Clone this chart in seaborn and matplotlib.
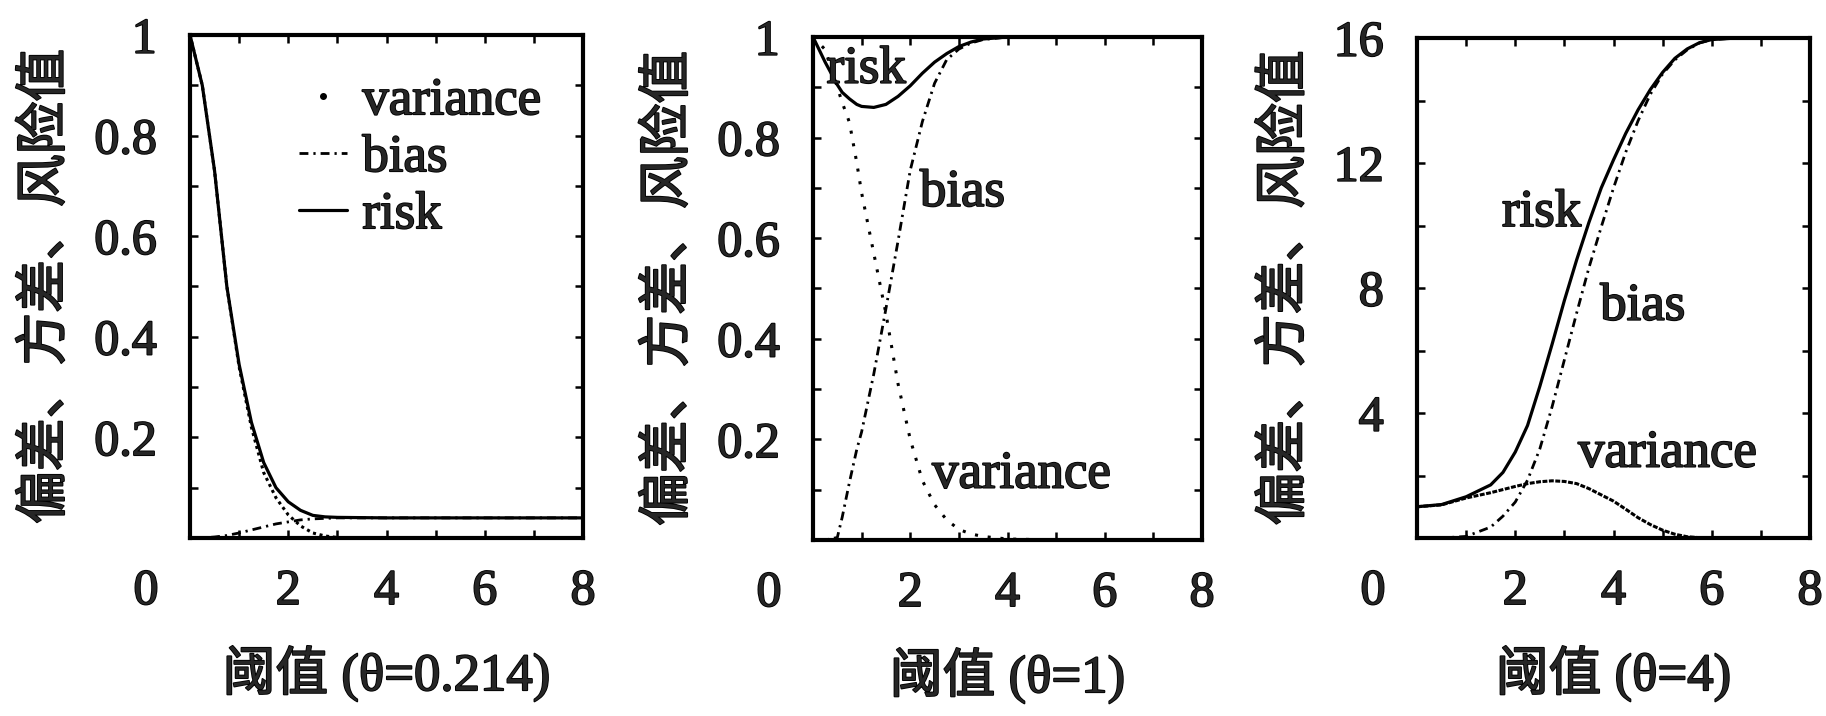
import matplotlib
matplotlib.use("Agg")
import matplotlib.pyplot as plt
import matplotlib.patheffects as pe
import seaborn as sns
from matplotlib.lines import Line2D
from matplotlib.ticker import FixedLocator, MultipleLocator, FuncFormatter
from matplotlib.transforms import ScaledTranslation

sns.set_style("ticks")
plt.rcParams["font.family"] = ["Liberation Serif", "Noto Sans CJK SC"]

# ---------------- data ----------------
x_theta1 = [0, 0.25, 0.5, 0.75, 1.0, 1.25, 1.5, 1.75, 2.0, 2.25, 2.5, 2.75, 3.0, 4.0, 5.0, 6.0, 7.0, 8.0]
var_theta1 = [1.0, 0.90, 0.73, 0.50, 0.34, 0.22, 0.13, 0.08, 0.046, 0.024, 0.010, 0.004, 0.001, 0.0, 0.0, 0.0, 0.0, 0.0]
bias_theta1 = [0.0, 0.0, 0.002, 0.005, 0.010, 0.016, 0.022, 0.028, 0.032, 0.036, 0.038, 0.039, 0.040, 0.040, 0.040, 0.040, 0.040, 0.040]
risk_theta1 = [1.0, 0.90, 0.73, 0.50, 0.345, 0.23, 0.15, 0.10, 0.072, 0.055, 0.045, 0.042, 0.041, 0.040, 0.040, 0.040, 0.040, 0.040]

x_theta2 = [0, 0.25, 0.5, 0.6, 0.75, 0.9, 1.0, 1.25, 1.5, 1.75, 2.0, 2.25, 2.5, 2.75, 3.0, 3.25, 3.5, 4.0, 5.0, 6.0, 7.0, 8.0]
var_theta2 = [1.0, 0.975, 0.90, 0.87, 0.83, 0.75, 0.69, 0.57, 0.45, 0.31, 0.20, 0.118, 0.07, 0.04, 0.021, 0.012, 0.007, 0.002, 0.0, 0.0, 0.0, 0.0]
bias_theta2 = [0.0, 0.0, 0.005, 0.045, 0.115, 0.18, 0.215, 0.33, 0.46, 0.595, 0.735, 0.832, 0.908, 0.955, 0.976, 0.988, 0.995, 1.0, 1.0, 1.0, 1.0, 1.0]
risk_theta2 = [1.0, 0.95, 0.905, 0.89, 0.877, 0.866, 0.862, 0.86, 0.866, 0.882, 0.903, 0.928, 0.95, 0.967, 0.981, 0.99, 0.996, 1.0, 1.0, 1.0, 1.0, 1.0]

x_theta3 = [0, 0.5, 1.0, 1.5, 1.75, 2.0, 2.25, 2.5, 2.75, 3.0, 3.25, 3.5, 3.75, 4.0, 4.25, 4.5, 4.75, 5.0, 5.25, 5.5, 5.75, 6.0, 6.5, 7.0, 7.5, 8.0]
var_theta3 = [1.0, 1.06, 1.28, 1.45, 1.55, 1.65, 1.74, 1.80, 1.83, 1.81, 1.74, 1.58, 1.38, 1.18, 0.92, 0.65, 0.43, 0.25, 0.12, 0.04, 0.01, 0.0, 0.0, 0.0, 0.0, 0.0]
bias_theta3 = [0.0, 0.0, 0.05, 0.35, 0.70, 1.15, 1.85, 2.85, 4.2, 5.7, 7.2, 8.65, 9.95, 11.2, 12.35, 13.35, 14.2, 14.85, 15.3, 15.62, 15.84, 15.95, 16.0, 16.0, 16.0, 16.0]
risk_theta3 = [1.0, 1.07, 1.32, 1.70, 2.10, 2.75, 3.6, 4.85, 6.2, 7.6, 8.9, 10.1, 11.2, 12.1, 12.95, 13.7, 14.35, 14.9, 15.35, 15.65, 15.85, 15.95, 16.0, 16.0, 16.0, 16.0]

theta_labels = ["阈值 (θ=0.214)", "阈值 (θ=1)", "阈值 (θ=4)"]
ylabel_text = "偏差、方差、风险值"
series_names = ["variance", "bias", "risk"]
x_major = [0, 2, 4, 6, 8]
y_major_small = [0.2, 0.4, 0.6, 0.8, 1.0]
y_major_big = [4, 8, 12, 16]

# ---------------- layout / styles ----------------
W, H = 1826, 716
fig = plt.figure(figsize=(W / 100, H / 100), dpi=100)
boxes = [(190, 583, 35, 538), (813, 1202, 37, 540), (1417, 1810, 38, 538)]
BIAS_LS = (0, (3.2, 1.8, 0.8, 1.8))
VAR_LS = [(0, (1, 1.2)), (0, (1, 3.2)), (0, (1.6, 0.5))]
TICK_FS = 36
TEXT_FS = 38
INK = [pe.withStroke(linewidth=1.3, foreground="black")]

panels = [
    (x_theta1, var_theta1, bias_theta1, risk_theta1),
    (x_theta2, var_theta2, bias_theta2, risk_theta2),
    (x_theta3, var_theta3, bias_theta3, risk_theta3),
]

axes = []
for i, ((x, v, b, r), (l, rgt, t, btm)) in enumerate(zip(panels, boxes)):
    ax = fig.add_axes([l / W, 1 - btm / H, (rgt - l) / W, (btm - t) / H])
    axes.append(ax)
    sns.lineplot(x=x, y=v, ax=ax, color="black", lw=2.2, linestyle=VAR_LS[i],
                 estimator=None, sort=False)
    sns.lineplot(x=x, y=b, ax=ax, color="black", lw=2.0, linestyle=BIAS_LS,
                 estimator=None, sort=False)
    sns.lineplot(x=x, y=r, ax=ax, color="black", lw=2.3, linestyle="-",
                 estimator=None, sort=False)

    ax.set_xlim(0, 8)
    ax.xaxis.set_major_locator(FixedLocator(x_major))
    ax.xaxis.set_minor_locator(MultipleLocator(1))
    if i < 2:
        ax.set_ylim(0, 1)
        ax.yaxis.set_major_locator(FixedLocator(y_major_small))
        ax.yaxis.set_minor_locator(MultipleLocator(0.1))
        ax.yaxis.set_major_formatter(FuncFormatter(lambda v, p: "1" if abs(v - 1) < 1e-9 else f"{v:.1f}"))
    else:
        ax.set_ylim(0, 16)
        ax.yaxis.set_major_locator(FixedLocator(y_major_big))
        ax.yaxis.set_minor_locator(MultipleLocator(2))
        ax.yaxis.set_major_formatter(FuncFormatter(lambda v, p: f"{int(round(v))}"))

    ax.tick_params(which="both", direction="in", top=True, right=True,
                   length=6, width=1.8, color="black")
    ax.tick_params(axis="x", which="major", labelsize=TICK_FS, pad=22)
    ax.tick_params(axis="y", which="major", labelsize=TICK_FS, pad=24)
    for sp in ax.spines.values():
        sp.set_linewidth(3.0)
        sp.set_color("black")

    ax.set_xlabel(theta_labels[i], fontsize=TEXT_FS, labelpad=22)
    ax.set_ylabel(ylabel_text, fontsize=TEXT_FS, labelpad=16,
                  family=["Noto Sans CJK SC"])

# legend (panel 1)
h_var = Line2D([], [], ls="none", marker=".", ms=8, color="black")
h_bias = Line2D([], [], ls=BIAS_LS, lw=2.0, color="black")
h_risk = Line2D([], [], ls="-", lw=2.3, color="black")
leg = axes[0].legend([h_var, h_bias, h_risk], series_names, loc="upper right",
                     frameon=False, fontsize=TEXT_FS, handlelength=0.9,
                     handletextpad=0.3, labelspacing=0.17, borderaxespad=0.5,
                     borderpad=0.3)

# in-plot labels (panels 2 and 3)
notes = [
    (axes[1], 0.28, 0.935, "risk"),
    (axes[1], 2.2, 0.69, "bias"),
    (axes[1], 2.45, 0.13, "variance"),
    (axes[2], 1.73, 10.4, "risk"),
    (axes[2], 3.73, 7.4, "bias"),
    (axes[2], 3.28, 2.7, "variance"),
]
for ax, xx, yy, s in notes:
    ax.text(xx, yy, s, fontsize=TEXT_FS, va="center", ha="left")

# the corner "0" label sits left of the axes origin, as in the reference
for ax in axes:
    lab = ax.xaxis.get_major_ticks()[0].label1
    lab.set_transform(lab.get_transform() + ScaledTranslation(-0.44, 0, fig.dpi_scale_trans))

# heavier ink, like the printed original
for ax in axes:
    for txt in ax.get_xticklabels() + ax.get_yticklabels() + ax.texts + [ax.xaxis.label, ax.yaxis.label]:
        txt.set_path_effects(INK)
for txt in leg.get_texts():
    txt.set_path_effects(INK)

fig.savefig("out.png", dpi=100, facecolor="white")
